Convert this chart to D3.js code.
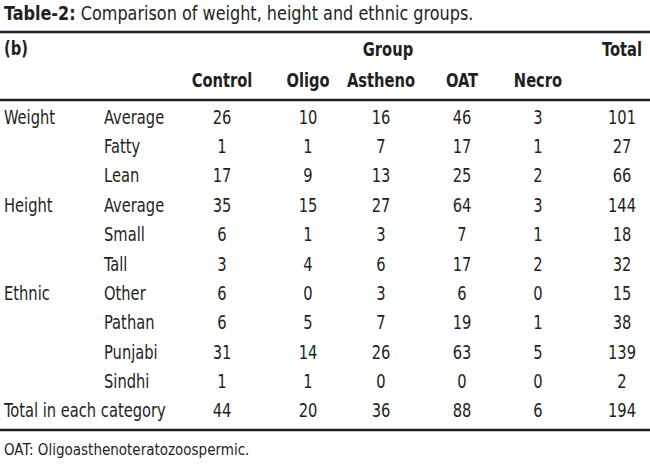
<!DOCTYPE html>
<html>
<head>
<meta charset="utf-8">
<script src="https://cdn.jsdelivr.net/npm/d3@7"></script>
<style>
  body { margin: 0; background: #fff; }
  svg text { font-family: "DejaVu Sans Condensed", "DejaVu Sans", sans-serif; fill: #231f20; }
</style>
</head>
<body>
<svg id="chart" width="650" height="466"></svg>
<script>
const groups = ["Control", "Oligo", "Astheno", "OAT", "Necro"]
const variables = ["Weight", "", "", "Height", "", "", "Ethnic", "", "", "", "Total in each category"]
const levels = ["Average", "Fatty", "Lean", "Average", "Small", "Tall", "Other", "Pathan", "Punjabi", "Sindhi", ""]
const control = [26, 1, 17, 35, 6, 3, 6, 6, 31, 1, 44]
const oligo = [10, 1, 9, 15, 1, 4, 0, 5, 14, 1, 20]
const astheno = [16, 7, 13, 27, 3, 6, 3, 7, 26, 0, 36]
const oat = [46, 17, 25, 64, 7, 17, 6, 19, 63, 0, 88]
const necro = [3, 1, 2, 3, 1, 2, 0, 1, 5, 0, 6]
const totals = [101, 27, 66, 144, 18, 32, 15, 38, 139, 2, 194]

const svg = d3.select("#chart")
const width = 650
const squeeze = 0.86   // fake a condensed face

const rows = d3.range(levels.length)
const y = d3.scaleBand().domain(rows).range([102, 425])
const keys = [...groups, "Total"]
const x = d3.scaleOrdinal().domain(keys).range([222, 308, 381, 462, 538, 622])

const place = (sel, fx, fy) =>
  sel.attr("transform", (d, i) => `translate(${fx(d, i)}, ${fy(d, i)}) scale(${squeeze}, 1)`)

// title
const title = svg.append("text").style("font-size", "19px")
  .attr("transform", "translate(4, 20) scale(0.94, 1)")
title.append("tspan").attr("font-weight", "bold").text("Table-2:")
title.append("tspan").text(" Comparison of weight, height and ethnic groups.")

// rules
const rules = [32, 100, 430]
svg.selectAll("line.rule").data(rules).join("line")
  .attr("class", "rule")
  .attr("x1", 0).attr("x2", width)
  .attr("y1", d => d).attr("y2", d => d)
  .attr("stroke", "#231f20").attr("stroke-width", 2.5)

// header
const hdr = svg.append("g").style("font-size", "19px").attr("font-weight", "bold")
hdr.append("text").attr("transform", `translate(4, 55) scale(${squeeze}, 1)`).text("(b)")
hdr.append("text").attr("transform", `translate(388, 56) scale(${squeeze}, 1)`)
  .attr("text-anchor", "middle").text("Group")
hdr.append("text").attr("transform", `translate(642, 56) scale(${squeeze}, 1)`)
  .attr("text-anchor", "end").text("Total")
hdr.selectAll("text.grp").data(groups).join("text")
  .attr("class", "grp")
  .attr("text-anchor", "middle")
  .call(place, d => x(d), () => 87)
  .text(d => d)

// body
const series = [control, oligo, astheno, oat, necro, totals]
const body = svg.append("g").style("font-size", "19px")
const rowG = body.selectAll("g.row").data(rows).join("g")
  .attr("class", "row")
  .attr("transform", d => `translate(0, ${y(d) + y.bandwidth() / 2 + 7})`)

rowG.append("text").call(place, () => 4, () => 0).text(d => variables[d])
rowG.append("text").call(place, () => 104, () => 0).text(d => levels[d])
rowG.selectAll("text.val").data(d => keys.map((k, j) => ({ k, v: series[j][d] })))
  .join("text")
  .attr("class", "val")
  .attr("text-anchor", "middle")
  .call(place, d => x(d.k), () => 0)
  .text(d => d.v)

// footnote
svg.append("text").style("font-size", "15px")
  .attr("x", 4).attr("y", 455)
  .text("OAT: Oligoasthenoteratozoospermic.")
</script>
</body>
</html>
